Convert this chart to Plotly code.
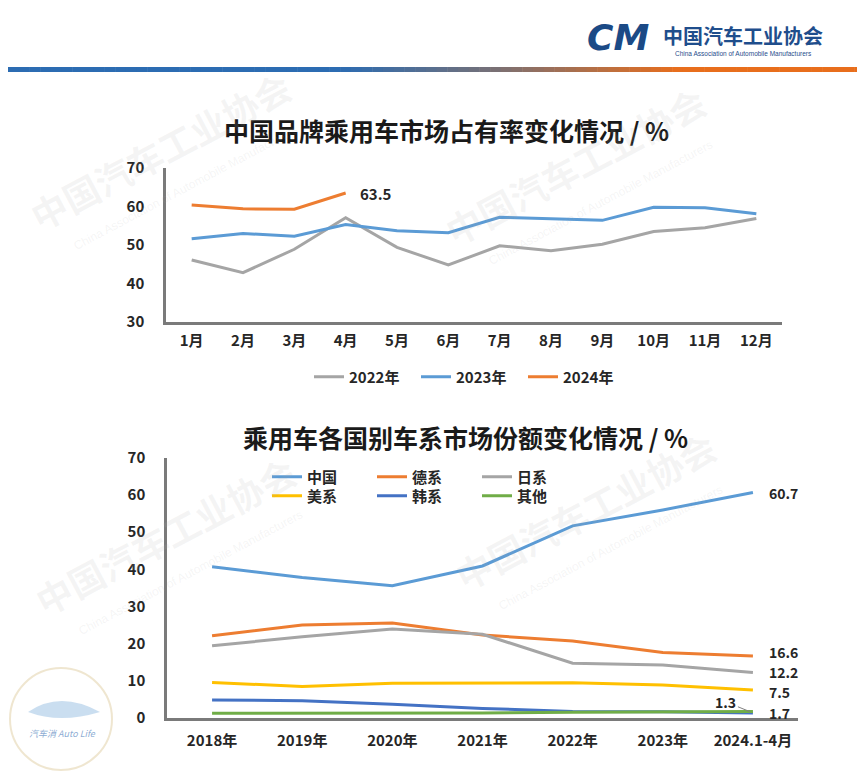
import plotly.graph_objects as go

# ---------------- data ----------------
months = ["1月", "2月", "3月", "4月", "5月", "6月", "7月", "8月", "9月", "10月", "11月", "12月"]
share_2022 = [46.1, 42.8, 48.9, 57.1, 49.4, 44.8, 49.8, 48.5, 50.2, 53.5, 54.5, 56.9]
share_2023 = [51.6, 53.0, 52.3, 55.3, 53.7, 53.2, 57.2, 56.8, 56.4, 59.8, 59.7, 58.1]
share_2024 = [60.4, 59.4, 59.3, 63.5]

years = ["2018年", "2019年", "2020年", "2021年", "2022年", "2023年", "2024.1-4月"]
china = [40.7, 37.8, 35.6, 40.9, 51.7, 56.0, 60.7]
german = [22.1, 25.0, 25.5, 22.3, 20.7, 17.6, 16.6]
japan = [19.4, 21.8, 23.9, 22.5, 14.7, 14.2, 12.2]
usa = [9.5, 8.4, 9.3, 9.3, 9.4, 8.8, 7.5]
korea = [4.8, 4.6, 3.6, 2.5, 1.7, 1.6, 1.3]
other = [1.2, 1.2, 1.2, 1.3, 1.5, 1.6, 1.7]

W, H = 865, 776
OFF = 8  # page body margin offset
FONT = "Noto Sans CJK SC"
TXT = "#262626"


def px(x):
    return (x - OFF) / W


def py(y):
    return 1 - (y - OFF) / H


fig = go.Figure()

# ---------------- top chart ----------------
top_series = [("2022年", share_2022, "#A5A5A5"),
              ("2023年", share_2023, "#5B9BD5"),
              ("2024年", share_2024, "#ED7D31")]
for name, vals, col in top_series:
    fig.add_trace(go.Scatter(x=months[:len(vals)], y=vals, name=name, mode="lines",
                             line=dict(color=col, width=3), xaxis="x", yaxis="y",
                             legend="legend", hoverinfo="skip"))

# ---------------- bottom chart ----------------
bot_series = [("中国", china, "#5B9BD5", "legend2"),
              ("德系", german, "#ED7D31", "legend2"),
              ("日系", japan, "#A5A5A5", "legend2"),
              ("美系", usa, "#FFC000", "legend3"),
              ("韩系", korea, "#4472C4", "legend3"),
              ("其他", other, "#70AD47", "legend3")]
for name, vals, col, lg in bot_series:
    fig.add_trace(go.Scatter(x=years, y=vals, name=name, mode="lines",
                             line=dict(color=col, width=3), xaxis="x2", yaxis="y2",
                             legend=lg, hoverinfo="skip"))

tickfont = dict(family=FONT, size=15, color=TXT, weight="bold")
axis_common = dict(showgrid=False, zeroline=False, showline=True, linecolor="#7A7A7A",
                   linewidth=2.5, tickfont=tickfont, fixedrange=True, automargin=False)

legfont = dict(family=FONT, size=15, color=TXT, weight="bold")
fig.update_layout(
    width=W, height=H, autosize=False,
    margin=dict(l=0, r=0, t=0, b=0, pad=0, autoexpand=False),
    paper_bgcolor="white", plot_bgcolor="white",
    font=dict(family=FONT, color=TXT),
    xaxis=dict(domain=[px(166), px(782)], type="category", range=[-0.5, 11.5],
               anchor="y", ticks="outside", ticklen=3, tickcolor="rgba(0,0,0,0)",
               **axis_common),
    yaxis=dict(domain=[py(322), py(168)], range=[30, 70], dtick=10, anchor="x",
               ticks="outside", ticklen=16, tickcolor="rgba(0,0,0,0)", **axis_common),
    xaxis2=dict(domain=[px(167), px(798)], type="category", range=[-0.5, 6.5],
                anchor="y2", ticks="outside", ticklen=8, tickcolor="rgba(0,0,0,0)",
                **axis_common),
    yaxis2=dict(domain=[py(717.7), py(458)], range=[0, 70], dtick=10, anchor="x2",
                ticks="outside", ticklen=16, tickcolor="rgba(0,0,0,0)", **axis_common),
    legend=dict(orientation="h", x=px(309), y=py(377), xanchor="left", yanchor="middle",
                font=legfont, entrywidth=62, entrywidthmode="pixels",
                bgcolor="rgba(0,0,0,0)"),
    legend2=dict(orientation="h", x=px(267), y=py(477), xanchor="left", yanchor="middle",
                 font=legfont, entrywidth=60, entrywidthmode="pixels",
                 bgcolor="rgba(0,0,0,0)"),
    legend3=dict(orientation="h", x=px(267), y=py(496), xanchor="left", yanchor="middle",
                 font=legfont, entrywidth=60, entrywidthmode="pixels",
                 bgcolor="rgba(0,0,0,0)"),
    showlegend=True,
)

annotations = []


def ptext(text, x, y, font, xanchor="center", **kw):
    return dict(text=text, x=px(x), y=py(y), xref="paper", yref="paper", showarrow=False,
                xanchor=xanchor, yanchor="middle", font=font, **kw)


# titles
titlefont = dict(family=FONT, size=25, color="#1a1a1a", weight="bold")
annotations.append(ptext("中国品牌乘用车市场占有率变化情况 / %", 446, 130, titlefont))
annotations.append(ptext("乘用车各国别车系市场份额变化情况 / %", 466, 437, titlefont))

lblfont = dict(family=FONT, size=15, color=TXT, weight="bold")
endfont = dict(family=FONT, size=14, color=TXT, weight="bold")
# top data label
annotations.append(dict(text=f"{share_2024[-1]}", x=months[len(share_2024) - 1], y=share_2024[-1],
                        xref="x", yref="y", xanchor="left", yanchor="middle", xshift=12,
                        showarrow=False, font=lblfont))
# bottom end labels
for vals, dy in [(china, 0), (german, 4), (japan, 0), (usa, -2), (other, -2)]:
    annotations.append(dict(text=f"{vals[-1]}", x=years[-1], y=vals[-1], xref="x2", yref="y2",
                            xanchor="left", yanchor="middle", xshift=14, yshift=dy,
                            showarrow=False, font=endfont))
annotations.append(dict(text=f"{korea[-1]}", x=years[-1], y=korea[-1], xref="x2", yref="y2",
                        ax=-27, ay=-11, showarrow=True, arrowhead=0, arrowwidth=1,
                        arrowcolor="#7F7F7F", standoff=3, font=endfont))

# header
annotations.append(ptext("<i>CM</i>", 618, 38,
                         dict(family="DejaVu Sans", size=36, color="#1B4A86", weight="bold")))
annotations.append(ptext("中国汽车工业协会", 743, 36,
                         dict(family=FONT, size=20, color="#1F4E8C", weight="bold")))
annotations.append(ptext("China Association of Automobile Manufacturers", 743, 53,
                         dict(family="Liberation Sans", size=6.5, color="#1F4E8C")))

# watermarks
wm_col = "rgba(170,170,170,0.13)"
for cx, cy in [(160, 150), (575, 165), (165, 535), (585, 510)]:
    annotations.append(ptext("中国汽车工业协会", cx, cy,
                             dict(family=FONT, size=36, color=wm_col, weight="bold"),
                             textangle=-28))
    annotations.append(ptext("China Association of Automobile Manufacturers", cx + 25, cy + 38,
                             dict(family="Liberation Sans", size=12, color=wm_col),
                             textangle=-28))

# bottom-left small logo text
annotations.append(ptext("<i>汽车消</i> <i>Auto Life</i>", 62, 733,
                         dict(family=FONT, size=9, color="rgba(110,150,200,0.8)")))

fig.update_layout(annotations=annotations)

# header gradient bar
shapes = []


def lerp(a, b, t):
    return tuple(int(round(a[i] + (b[i] - a[i]) * t)) for i in range(3))


blue = (44, 108, 178)
mid = (112, 112, 124)
orange = (232, 110, 28)
N = 80
for i in range(N):
    x0 = OFF + (W - OFF) * i / N
    x1 = OFF + (W - OFF) * (i + 1) / N + 0.5
    xc = (x0 + x1) / 2
    if xc < 340:
        c = blue
    elif xc < 480:
        c = lerp(blue, mid, (xc - 340) / 140)
    elif xc < 680:
        c = lerp(mid, orange, (xc - 480) / 200)
    else:
        c = orange
    shapes.append(dict(type="rect", xref="paper", yref="paper", x0=px(x0), x1=px(x1),
                       y0=py(72), y1=py(67), line=dict(width=0),
                       fillcolor=f"rgb{c}", layer="above"))

# faint circular logo bottom-left
shapes.append(dict(type="circle", xref="paper", yref="paper", x0=px(10), x1=px(112),
                   y0=py(770), y1=py(668), line=dict(color="rgba(220,200,150,0.45)", width=2)))
shapes.append(dict(type="path", xref="paper", yref="paper",
                   path=f"M {px(28)},{py(712)} Q {px(60)},{py(690)} {px(100)},{py(712)} "
                        f"Q {px(60)},{py(724)} {px(28)},{py(712)} Z",
                   fillcolor="rgba(150,190,225,0.5)", line=dict(width=0)))
fig.update_layout(shapes=shapes)

fig.write_html("out.html")
